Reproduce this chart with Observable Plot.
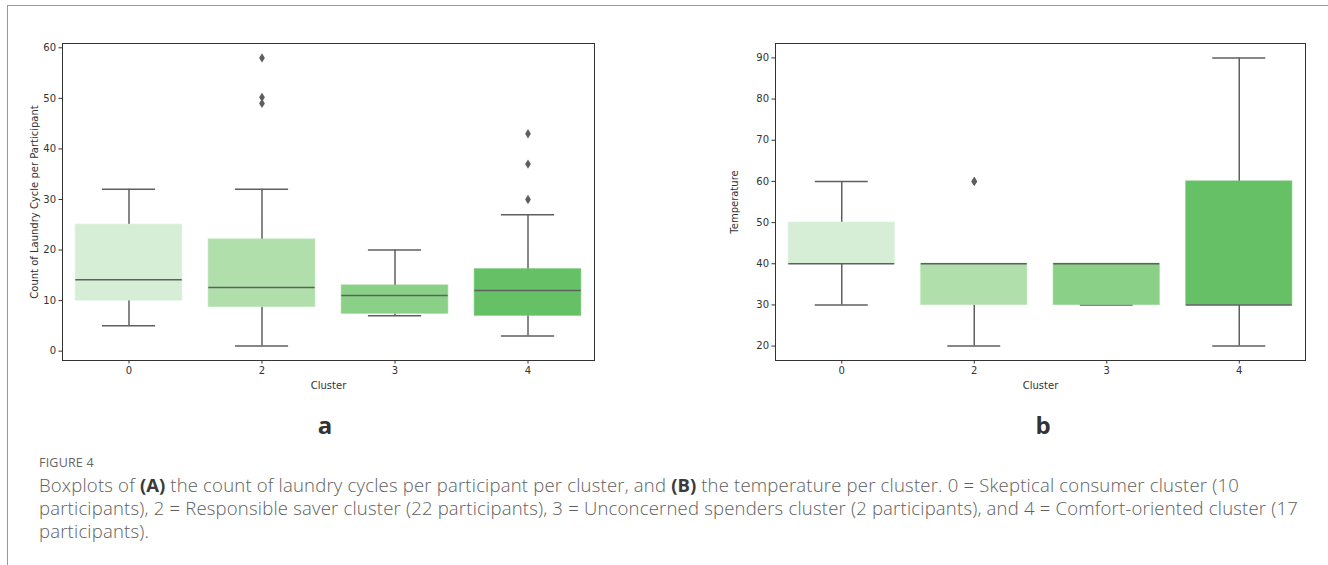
<!DOCTYPE html>
<html>
<head>
<meta charset="utf-8">
<script src="https://cdn.jsdelivr.net/npm/d3@7"></script>
<script src="https://cdn.jsdelivr.net/npm/@observablehq/plot@0.6"></script>
<style>
  html, body { margin: 0; padding: 0; background: #fff; }
  body { width: 1328px; height: 565px; position: relative; overflow: hidden; font-family: "DejaVu Sans", sans-serif; }
  #frameTop { position: absolute; left: 7px; top: 5px; width: 1321px; height: 0; border-top: 1.5px solid #9a9a9a; }
  #frameLeft { position: absolute; left: 7px; top: 5px; width: 0; height: 560px; border-left: 1.5px solid #9a9a9a; }
  #chartA { position: absolute; left: 0; top: 0; }
  #chartB { position: absolute; left: 700px; top: 0; }
  .panel { position: absolute; top: 408px; font-family: "Open Sans", "Liberation Sans", sans-serif; font-weight: bold; font-size: 24px; color: #333; transform: translateX(-50%); }
  #fig { position: absolute; left: 39px; top: 454px; font-family: "Open Sans", sans-serif; font-size: 12.5px; color: #666; letter-spacing: 0.2px; }
  #cap { position: absolute; left: 39px; top: 473px; font-family: "Open Sans", sans-serif; font-weight: 300; font-size: 18.5px; letter-spacing: 0.2px; line-height: 23px; color: #5e5e5e; white-space: nowrap; }
  #cap b { color: #3a3a3a; font-weight: 700; letter-spacing: 0; }
</style>
</head>
<body>
<div id="frameTop"></div>
<div id="frameLeft"></div>
<div id="chartA"></div>
<div id="chartB"></div>
<div class="panel" style="left:325px">a</div>
<div class="panel" style="left:1043px">b</div>
<div id="fig">FIGURE 4</div>
<div id="cap">Boxplots of <b>(A)</b> the count of laundry cycles per participant per cluster, and <b>(B)</b> the temperature per cluster. 0 = Skeptical consumer cluster (10<br>participants), 2 = Responsible saver cluster (22 participants), 3 = Unconcerned spenders cluster (2 participants), and 4 = Comfort-oriented cluster (17<br>participants).</div>
<script>
// ---- data ----
const clusters = ["0", "2", "3", "4"];
const boxColors = ["#d6eed5", "#b1dfab", "#8ad087", "#66c166"];

// Panel a: count of laundry cycles per participant
const cyclesLow    = [5, 1, 7, 3];
const cyclesQ1     = [10, 8.75, 7.4, 7];
const cyclesMedian = [14.1, 12.6, 11, 12];
const cyclesQ3     = [25, 22.1, 13, 16.2];
const cyclesHigh   = [32, 32, 20, 27];
const cyclesOutCluster = ["2", "2", "2", "4", "4", "4"];
const cyclesOutValue   = [58, 50.2, 49, 43, 37, 30];
const cyclesTicks = [0, 10, 20, 30, 40, 50, 60];

// Panel b: temperature
const tempLow    = [30, 20, 30, 20];
const tempQ1     = [40, 30, 30, 30];
const tempMedian = [40, 40, 40, 30];
const tempQ3     = [50, 40, 40, 60];
const tempHigh   = [60, 40, 40, 90];
const tempOutCluster = ["2", "2"];
const tempOutValue   = [60, 60];
const tempTicks = [20, 30, 40, 50, 60, 70, 80, 90];

// thin diamond marker (matplotlib 'd')
const thinDiamond = {
  draw(ctx, size) {
    const h = Math.sqrt(size) * 0.75;
    const w = h * 0.62;
    ctx.moveTo(0, -h); ctx.lineTo(w, 0); ctx.lineTo(0, h); ctx.lineTo(-w, 0); ctx.closePath();
  }
};

const gray = "#5f5f5f";

function boxChart({low, q1, med, q3, high, outC, outV, ticks, domain, ylabel, marginLeft, width, marginRight}) {
  const rows = clusters.map((c, i) => ({i, c, low: low[i], q1: q1[i], med: med[i], q3: q3[i], high: high[i], color: boxColors[i]}));
  const outs = outC.map((c, k) => ({i: clusters.indexOf(c), v: outV[k]}));
  return Plot.plot({
    width, height: 400,
    marginLeft, marginRight, marginTop: 43, marginBottom: 40,
    style: {fontFamily: "DejaVu Sans, sans-serif", fontSize: "10px", color: "#333", background: "transparent"},
    x: {domain: [-0.5, 3.5], ticks: [0, 1, 2, 3], tickFormat: i => clusters[i], label: null, tickSize: 3.5, tickPadding: 3},
    y: {domain, ticks, label: null, tickSize: 3.5, tickPadding: 3},
    marks: [
      // whiskers
      Plot.ruleX(rows, {x: "i", y1: "q3", y2: "high", stroke: gray, strokeWidth: 1.5}),
      Plot.ruleX(rows, {x: "i", y1: "low", y2: "q1", stroke: gray, strokeWidth: 1.5}),
      // caps
      Plot.ruleY(rows, {y: "high", x1: d => d.i - 0.2, x2: d => d.i + 0.2, stroke: gray, strokeWidth: 1.5}),
      Plot.ruleY(rows, {y: "low", x1: d => d.i - 0.2, x2: d => d.i + 0.2, stroke: gray, strokeWidth: 1.5}),
      // boxes
      Plot.rect(rows, {x1: d => d.i - 0.4, x2: d => d.i + 0.4, y1: "q1", y2: "q3", fill: "color", stroke: "color", strokeWidth: 1.2, strokeOpacity: 0.6}),
      // medians
      Plot.ruleY(rows, {y: "med", x1: d => d.i - 0.4, x2: d => d.i + 0.4, stroke: gray, strokeWidth: 1.5}),
      // outliers
      Plot.dot(outs, {x: "i", y: "v", symbol: thinDiamond, r: 3.5, fill: gray, stroke: "none"}),
      Plot.frame({stroke: "#333", strokeWidth: 1}),
      Plot.text(["Cluster"], {frameAnchor: "bottom", dy: 28, fontSize: 10, fill: "#333", lineAnchor: "bottom"}),
      Plot.text([ylabel], {frameAnchor: "left", dx: -marginLeft + 34, rotate: -90, textAnchor: "middle", fontSize: 10, fill: "#333"})
    ]
  });
}

document.getElementById("chartA").append(boxChart({
  low: cyclesLow, q1: cyclesQ1, med: cyclesMedian, q3: cyclesQ3, high: cyclesHigh,
  outC: cyclesOutCluster, outV: cyclesOutValue, ticks: cyclesTicks,
  domain: [-1.85, 60.85], ylabel: "Count of Laundry Cycle per Participant",
  marginLeft: 62, width: 604, marginRight: 10
}));

document.getElementById("chartB").append(boxChart({
  low: tempLow, q1: tempQ1, med: tempMedian, q3: tempQ3, high: tempHigh,
  outC: tempOutCluster, outV: tempOutValue, ticks: tempTicks,
  domain: [16.5, 93.5], ylabel: "Temperature",
  marginLeft: 75, width: 618, marginRight: 13
}));
</script>
</body>
</html>
